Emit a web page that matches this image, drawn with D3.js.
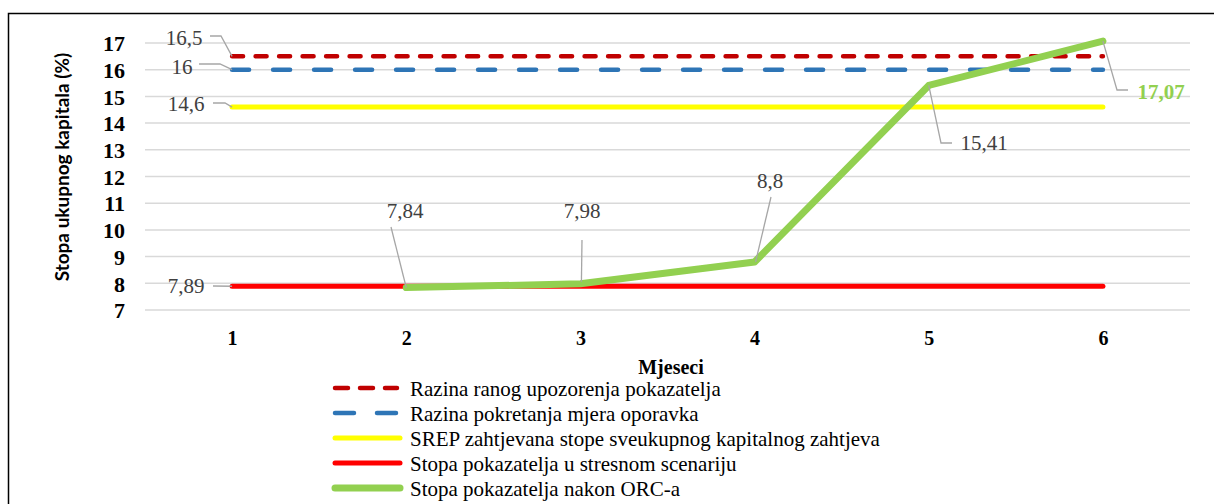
<!DOCTYPE html>
<html>
<head>
<meta charset="utf-8">
<script src="https://cdn.jsdelivr.net/npm/d3@7"></script>
<style>
html,body{margin:0;padding:0;background:#fff;}
svg{display:block;}
</style>
</head>
<body>
<svg id="chart" width="1214" height="504"></svg>
<script>
// ---- data ----
const months = [1, 2, 3, 4, 5, 6];
const earlyWarning = [16.5, 16.5, 16.5, 16.5, 16.5, 16.5];
const recoveryTrigger = [16, 16, 16, 16, 16, 16];
const srepRequirement = [14.6, 14.6, 14.6, 14.6, 14.6, 14.6];
const stressRate = [7.89, 7.89, 7.89, 7.89, 7.89, 7.89];
const afterORC = [null, 7.84, 7.98, 8.8, 15.41, 17.07];
const yTicks = [7, 8, 9, 10, 11, 12, 13, 14, 15, 16, 17];
const seriesNames = [
  "Razina ranog upozorenja pokazatelja",
  "Razina pokretanja mjera oporavka",
  "SREP zahtjevana stope sveukupnog kapitalnog zahtjeva",
  "Stopa pokazatelja u stresnom scenariju",
  "Stopa pokazatelja nakon ORC-a"
];
const xTitle = "Mjeseci";
const yTitle = "Stopa ukupnog kapitala (%)";

const SERIF = "'Liberation Serif', 'Times New Roman', Times, serif";

const svg = d3.select("#chart");

// border
svg.append("rect").attr("x", 8.5).attr("y", 13.5).attr("width", 1220).attr("height", 510)
  .attr("fill", "none").attr("stroke", "#000").attr("stroke-width", 1.5);

const plotL = 145, plotR = 1190;
const x = d3.scalePoint().domain(months).range([plotL, plotR]).padding(0.5);
const y = d3.scaleLinear().domain([7, 17]).range([310, 43]);

// grid
svg.append("g").selectAll("line").data(yTicks).join("line")
  .attr("x1", plotL).attr("x2", plotR)
  .attr("y1", d => y(d)).attr("y2", d => y(d))
  .attr("stroke", "#d9d9d9").attr("stroke-width", 1.5);

// y axis labels
const yAxis = d3.axisLeft(y).tickValues(yTicks).tickSize(0).tickPadding(0).tickFormat(d3.format("d"));
const gy = svg.append("g").attr("transform", `translate(125,0)`).call(yAxis)
  .attr("font-family", null).attr("font-size", null);
gy.select(".domain").remove();
gy.selectAll("text").style("font-family", SERIF).style("font-weight", "bold")
  .style("font-size", "22px").attr("fill", "#000").attr("dy", "0.35em");

// x axis labels
const xAxis = d3.axisBottom(x).tickSize(0).tickPadding(0);
const gx = svg.append("g").attr("transform", `translate(0,331)`).call(xAxis)
  .attr("font-family", null).attr("font-size", null);
gx.select(".domain").remove();
gx.selectAll("text").style("font-family", SERIF).style("font-weight", "bold")
  .style("font-size", "20px").attr("fill", "#000").attr("dy", "0.35em").attr("y", 7);

// titles
svg.append("text").attr("x", 671).attr("y", 374).attr("text-anchor", "middle")
  .style("font-family", SERIF).style("font-weight", "bold").style("font-size", "20px")
  .text(xTitle);
svg.append("text").attr("transform", "translate(69,167) rotate(-90)").attr("text-anchor", "middle")
  .style("font-family", "Lato, 'Open Sans', sans-serif").style("font-weight", "bold").style("font-size", "19px")
  .text(yTitle);

// series
const styles = [
  {data: earlyWarning, color: "#C00000", w: 4.5, dash: "11 12.5"},
  {data: recoveryTrigger, color: "#2E75B6", w: 4.5, dash: "17 24"},
  {data: srepRequirement, color: "#FFFF00", w: 5, dash: null},
  {data: stressRate, color: "#FF0000", w: 5, dash: null},
  {data: afterORC, color: "#92D050", w: 7, dash: null}
];
const line = d3.line().defined(d => d != null).x((d, i) => x(months[i])).y(d => y(d));
styles.forEach(s => {
  svg.append("path").datum(s.data).attr("d", line)
    .attr("fill", "none").attr("stroke", s.color).attr("stroke-width", s.w)
    .attr("stroke-linecap", "round").attr("stroke-linejoin", "round")
    .attr("stroke-dasharray", s.dash);
});

// data labels with leader lines
const labelColor = "#404040", leaderColor = "#a6a6a6";
function label(txt, tx, ty, pts, opts = {}) {
  svg.append("path").attr("d", d3.line()(pts)).attr("fill", "none")
    .attr("stroke", leaderColor).attr("stroke-width", 1.3);
  svg.append("text").attr("x", tx).attr("y", ty).attr("text-anchor", opts.anchor || "middle")
    .style("font-family", SERIF).style("font-size", "21px")
    .style("font-weight", opts.bold ? "bold" : "normal")
    .attr("fill", opts.color || labelColor).text(txt);
}
const fmt = v => String(v).replace(".", ",");
label(fmt(earlyWarning[0]), 184, 45, [[210, 36], [221, 36], [x(1), y(earlyWarning[0])]]);
label(fmt(recoveryTrigger[0]), 182, 74, [[199, 64], [220, 64], [x(1), y(recoveryTrigger[0])]]);
label(fmt(srepRequirement[0]), 186, 111, [[213, 103], [225, 103], [x(1), y(srepRequirement[0])]]);
label(fmt(stressRate[0]), 186, 293, [[213, 286], [x(1), y(stressRate[0])]]);
label(fmt(afterORC[1]), 405, 218, [[391, 227], [x(2), y(afterORC[1])]]);
label(fmt(afterORC[2]), 582, 218, [[582, 240], [x(3) + 1, y(afterORC[2]) - 2]]);
label(fmt(afterORC[3]), 770, 188, [[771, 197], [x(4) + 1, y(afterORC[3])]]);
label(fmt(afterORC[4]), 984, 150, [[x(5), y(afterORC[4])], [941, 143], [952, 143]]);
label(fmt(afterORC[5]), 1161, 99, [[x(6), y(afterORC[5])], [1117, 90], [1128, 90]], {bold: true, color: "#92D050"});

// legend
const legY0 = 388, legStep = 25;
const leg = svg.append("g");
styles.forEach((s, i) => {
  const yy = legY0 + i * legStep;
  let x1 = 335, x2 = 400;
  let dash = null;
  if (i === 0) { x2 = 397; dash = "13 12"; }
  if (i === 1) { x2 = 398; dash = "19 23"; }
  leg.append("line").attr("x1", x1).attr("x2", x2).attr("y1", yy).attr("y2", yy)
    .attr("stroke", s.color).attr("stroke-width", s.w).attr("stroke-linecap", "round")
    .attr("stroke-dasharray", dash);
  leg.append("text").attr("x", 410).attr("y", yy + 8)
    .style("font-family", SERIF).style("font-size", "21px").attr("fill", "#000")
    .text(seriesNames[i]);
});
</script>
</body>
</html>
